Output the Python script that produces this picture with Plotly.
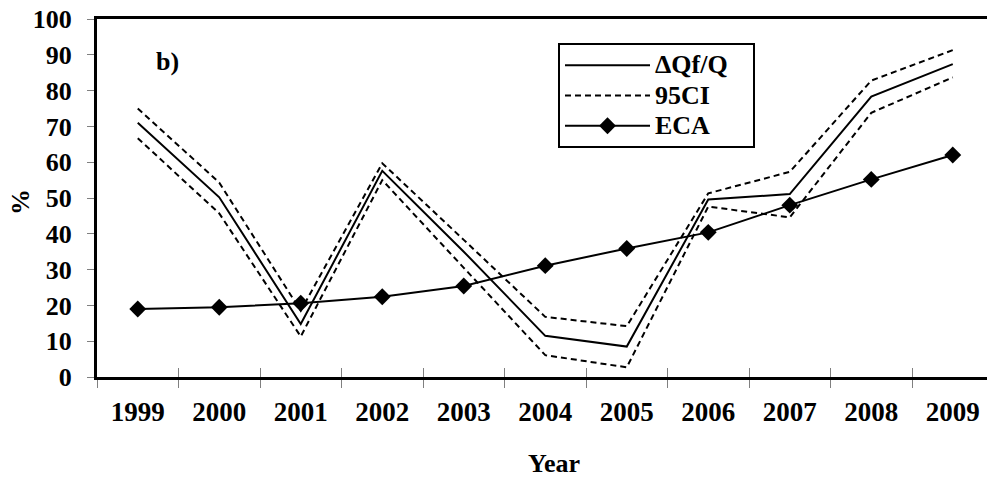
import plotly.graph_objects as go

years = ["1999", "2000", "2001", "2002", "2003", "2004", "2005", "2006", "2007", "2008", "2009"]
dqf = [71.0, 50.2, 14.8, 57.6, 35.0, 11.5, 8.5, 49.6, 51.1, 78.3, 87.4]
ci_upper = [75.0, 54.3, 18.5, 59.7, 38.3, 16.8, 14.2, 51.3, 57.3, 82.8, 91.3]
ci_lower = [66.7, 45.7, 11.3, 55.0, 30.5, 6.1, 2.7, 47.6, 44.6, 73.8, 83.7]
eca = [19.0, 19.5, 20.6, 22.4, 25.4, 31.1, 35.9, 40.4, 48.0, 55.2, 62.0]
y_ticks = [0, 10, 20, 30, 40, 50, 60, 70, 80, 90, 100]

xs = list(range(len(years)))
bounds = [i - 0.5 for i in range(len(years) + 1)]
FONT = "Liberation Serif"


def leg(t):
    return '<span style="font-size:26px"><b>%s</b></span>' % t


fig = go.Figure()
fig.add_trace(go.Scatter(x=xs, y=dqf, mode="lines", name=leg("ΔQf/Q\u00a0\u00a0\u00a0"),
                         line=dict(color="black", width=2)))
fig.add_trace(go.Scatter(x=xs, y=ci_upper, mode="lines", name=leg("95CI"),
                         line=dict(color="black", width=2, dash="6px,4px")))
fig.add_trace(go.Scatter(x=xs, y=ci_lower, mode="lines", name=leg("95CI"), showlegend=False,
                         line=dict(color="black", width=2, dash="6px,4px")))
fig.add_trace(go.Scatter(x=xs, y=eca, mode="lines+markers", name=leg("ECA"),
                         line=dict(color="black", width=2),
                         marker=dict(symbol="diamond", size=13, color="black")))
fig.add_trace(go.Scatter(x=[xs[0]], y=[None], xaxis="x2", showlegend=False, hoverinfo="skip"))

xr = [-0.5, 10.42]
fig.update_layout(
    width=987, height=480,
    margin=dict(l=97, r=0, t=19, b=103),
    paper_bgcolor="white", plot_bgcolor="white",
    font=dict(family=FONT, color="black"),
    showlegend=True,
    legend=dict(x=(558 - 97) / 890, y=(377 - 43) / 358, xanchor="left", yanchor="top",
                bordercolor="black", borderwidth=2, bgcolor="white",
                font=dict(family=FONT, size=21, color="black"),
                itemwidth=85, tracegroupgap=0),
    xaxis=dict(range=xr, tickmode="array", tickvals=xs,
               ticktext=["<b>%s</b>" % y for y in years], ticks="",
               tickfont=dict(family=FONT, size=27, color="black"),
               showline=True, linecolor="black", linewidth=3, mirror=True,
               showgrid=False, zeroline=False, ticklabelstandoff=9,
               minor=dict(tickmode="array", tickvals=bounds, ticks="outside",
                          ticklen=8, tickcolor="#808080", tickwidth=1, showgrid=False)),
    xaxis2=dict(range=xr, overlaying="x", anchor="y", side="bottom",
                tickmode="array", tickvals=bounds, ticks="inside", ticklen=9,
                tickcolor="#808080", tickwidth=1, showticklabels=False,
                showgrid=False, zeroline=False, showline=False),
    yaxis=dict(range=[0, 100], tickmode="array", tickvals=y_ticks,
               ticktext=["<b>%d</b>" % v for v in y_ticks],
               ticks="outside", ticklen=7, tickcolor="#808080", tickwidth=1,
               tickfont=dict(family=FONT, size=26, color="black"),
               showline=True, linecolor="black", linewidth=3, mirror=False,
               showgrid=False, zeroline=False, ticklabelstandoff=10),
    annotations=[
        dict(text="<b>b)</b>", x=0.36, y=0.88, xref="x", yref="paper",
             xanchor="center", yanchor="middle", showarrow=False,
             font=dict(family=FONT, size=26, color="black")),
        dict(text="<b>Year</b>", x=(554 - 97) / 890, y=-0.243, xref="paper", yref="paper",
             xanchor="center", yanchor="middle", showarrow=False,
             font=dict(family=FONT, size=26, color="black")),
        dict(text="<b>%</b>", x=-0.0854, y=0.489, xref="paper", yref="paper",
             xanchor="center", yanchor="middle", showarrow=False, textangle=-90,
             font=dict(family=FONT, size=26, color="black")),
    ],
)

fig.write_html("out.html")
